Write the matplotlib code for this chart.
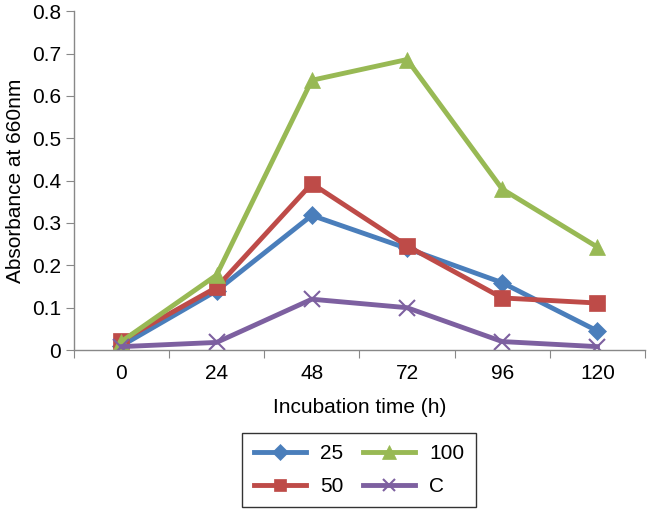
import numpy as np
from matplotlib import pyplot as plt

plt.rcParams["font.family"] = ["Liberation Sans", "DejaVu Sans"]

hours = ["0", "24", "48", "72", "96", "120"]
series_names = ["25", "50", "100", "C"]
abs_25 = [0.01, 0.14, 0.318, 0.24, 0.159, 0.045]
abs_50 = [0.022, 0.148, 0.393, 0.246, 0.123, 0.111]
abs_100 = [0.02, 0.177, 0.637, 0.686, 0.38, 0.243]
abs_c = [0.008, 0.018, 0.12, 0.10, 0.02, 0.008]

styles = [
    ("#4A7EBB", "D", 9),
    ("#BE4B48", "s", 11),
    ("#98B954", "^", 12),
    ("#7D60A0", "x", 11),
]

fig = plt.figure(figsize=(6.47, 5.11), dpi=100)
ax = fig.add_axes([0.114, 0.315, 0.883, 0.663])

x = np.arange(len(hours))
for name, vals, (col, mk, ms) in zip(series_names, [abs_25, abs_50, abs_100, abs_c], styles):
    ax.plot(x, vals, color=col, lw=3.5, marker=mk, markersize=ms,
            markeredgewidth=1.5 if mk == "x" else 0.5, markeredgecolor=col,
            label=name, solid_joinstyle="miter")

ax.set_xlim(-0.5, len(hours) - 0.5)
ax.set_ylim(0, 0.8)
ax.set_yticks(np.arange(0, 0.81, 0.1))
ax.set_yticklabels(["0"] + [f"{v:.1f}" for v in np.arange(0.1, 0.81, 0.1)])
ax.set_xticks(np.arange(-0.5, len(hours), 1.0))
ax.set_xticklabels([])
ax.set_xticks(x, minor=True)
ax.set_xticklabels(hours, minor=True)
ax.tick_params(axis="x", which="minor", length=0, pad=10, labelsize=15)
ax.tick_params(axis="x", which="major", length=6, color="#888888", direction="out")
ax.tick_params(axis="y", length=6, color="#888888", direction="out", labelsize=15, pad=3)

for s in ["top", "right"]:
    ax.spines[s].set_visible(False)
for s in ["left", "bottom"]:
    ax.spines[s].set_color("#888888")
    ax.spines[s].set_linewidth(1)

ax.set_xlabel("Incubation time (h)", fontsize=15, labelpad=11)
ax.set_ylabel("Absorbance at 660nm", fontsize=15, labelpad=5)

leg = fig.legend(loc="center", bbox_to_anchor=(0.555, 0.08), ncol=2, fontsize=15,
                 frameon=True, fancybox=False, edgecolor="black", handlelength=2.5,
                 columnspacing=0.9, borderpad=0.55, labelspacing=0.65, markerscale=0.85,
                 handletextpad=0.7)
leg.get_frame().set_linewidth(1.0)

fig.savefig("out.png", dpi=100)
